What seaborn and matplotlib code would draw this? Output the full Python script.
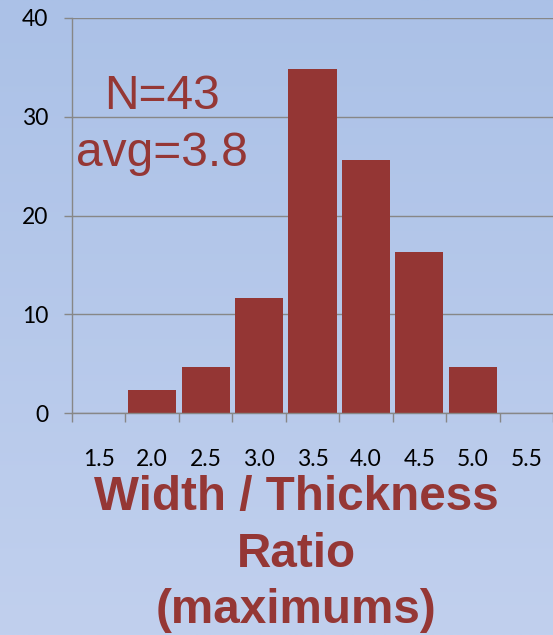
import numpy as np
import pandas as pd
import matplotlib
matplotlib.use("Agg")
import matplotlib.pyplot as plt
import seaborn as sns

categories = ["1.5", "2.0", "2.5", "3.0", "3.5", "4.0", "4.5", "5.0", "5.5"]
percent = [0.0, 2.33, 4.65, 11.63, 34.88, 25.58, 16.28, 4.65, 0.0]
y_ticks = [0, 10, 20, 30, 40]
note_lines = ["N=43", "avg=3.8"]
title_lines = ["Width / Thickness", "Ratio", "(maximums)"]

sns.set_theme(style="white")
plt.rcParams["font.family"] = ["Lato", "DejaVu Sans"]

W, H = 553, 635
fig = plt.figure(figsize=(W / 100, H / 100), dpi=100)

# gradient background
bg = fig.add_axes([0, 0, 1, 1], zorder=-10)
grad = np.linspace(0, 1, 256).reshape(-1, 1)
top = np.array([0xab, 0xc1, 0xe7]) / 255
bot = np.array([0xc1, 0xd0, 0xee]) / 255
img = top[None, None, :] * (1 - grad[:, :, None]) + bot[None, None, :] * grad[:, :, None]
bg.imshow(img, aspect="auto", extent=[0, 1, 0, 1])
bg.axis("off")

left_px, right_px, top_px, bottom_px = 72, 553, 18, 413
ax = fig.add_axes([left_px / W, 1 - bottom_px / H, (right_px - left_px) / W, (bottom_px - top_px) / H])
ax.set_facecolor("none")

df = pd.DataFrame({"ratio": categories, "pct": percent})
bar_color = "#943634"
sns.barplot(data=df, x="ratio", y="pct", order=categories, color=bar_color,
            width=0.9, linewidth=0, saturation=1, ax=ax, zorder=3)

grey = "#878787"
ax.set_ylim(0, 40)
ax.set_xlim(-0.5, len(categories) - 0.5)
ax.set_yticks(y_ticks)
ax.yaxis.grid(True, color=grey, linewidth=1.0, zorder=0)
ax.set_axisbelow(True)
ax.tick_params(axis="y", direction="out", length=6, width=1.0, color=grey,
               labelsize=16.5, pad=11, labelcolor="black", left=True)
ax.tick_params(axis="x", which="major", length=0, pad=26, labelsize=16.5, labelcolor="black")
ax.set_xticks(np.arange(-0.5, len(categories) + 0.5, 1.0), minor=True)
ax.tick_params(axis="x", which="minor", direction="out", length=6.5, width=1.0, color=grey, bottom=True)
ax.set_xlabel("")
ax.set_ylabel("")
for s in ["top", "right"]:
    ax.spines[s].set_visible(False)
for s in ["left", "bottom"]:
    ax.spines[s].set_color(grey)
    ax.spines[s].set_linewidth(1.0)
    ax.spines[s].set_zorder(4)

text_color = "#953735"
note_base = [109, 166]
for line, yb in zip(note_lines, note_base):
    fig.text(161.5 / W, 1 - yb / H, line, ha="center", va="baseline",
             fontsize=34.5, color=text_color, family="Liberation Sans")

title_base = [510, 567, 623]
for line, yb in zip(title_lines, title_base):
    fig.text(296.5 / W, 1 - yb / H, line, ha="center", va="baseline",
             fontsize=34.3, fontweight="bold", color=text_color, family="Liberation Sans")

fig.savefig("out.png", dpi=100)
